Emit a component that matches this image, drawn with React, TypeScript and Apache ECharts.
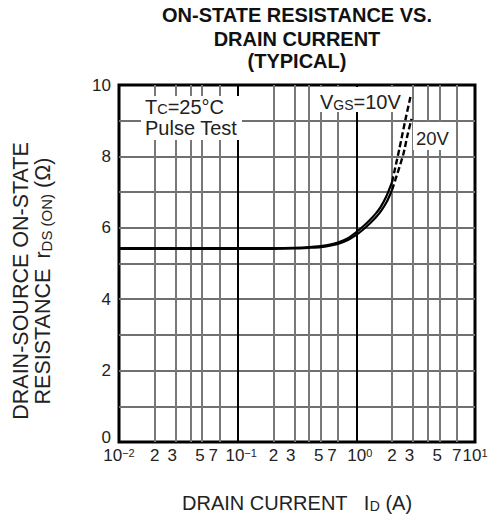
import React, { useEffect, useRef } from 'react';
import * as echarts from 'echarts';

const FONT = '"Liberation Sans", Arial, Helvetica, sans-serif';

const TITLE_LINES = ['ON-STATE RESISTANCE VS.', 'DRAIN CURRENT', '(TYPICAL)'];

// x tick label positions (A)
const X_LABEL_VALUES = [0.01, 0.02, 0.03, 0.05, 0.07, 0.1, 0.2, 0.3, 0.5, 0.7, 1, 2, 3, 5, 7, 10];
// vertical grid lines (A)
const X_GRID_MINOR = [0.02, 0.03, 0.04, 0.05, 0.07, 0.2, 0.3, 0.4, 0.5, 0.7, 2, 3, 4, 5, 7];
const X_GRID_DECADE = [0.1, 1];

// VGS = 10V
const I_10V_SOLID = [0.01, 0.1, 0.2, 0.3, 0.4, 0.5, 0.6, 0.7, 0.85, 1.0, 1.15, 1.3, 1.45, 1.6, 1.8, 2.0];
const R_10V_SOLID = [5.43, 5.43, 5.43, 5.44, 5.46, 5.49, 5.53, 5.59, 5.71, 5.88, 6.05, 6.22, 6.39, 6.58, 6.9, 7.28];
const I_10V_DASH = [2.0, 2.3, 2.6, 2.88];
const R_10V_DASH = [7.28, 8.2, 9.05, 9.72];

// VGS = 20V
const I_20V_SOLID = [0.01, 0.1, 0.2, 0.3, 0.4, 0.5, 0.6, 0.7, 0.85, 1.0, 1.15, 1.3, 1.45, 1.6, 1.8, 2.0];
const R_20V_SOLID = [5.41, 5.41, 5.41, 5.42, 5.44, 5.46, 5.5, 5.55, 5.66, 5.8, 5.96, 6.12, 6.28, 6.45, 6.72, 7.06];
const I_20V_DASH = [2.0, 2.48, 2.7, 2.92];
const R_20V_DASH = [7.06, 8.04, 8.6, 9.05];

const zip = (xs: number[], ys: number[]) => xs.map((x, i) => [x, ys[i]]);

function xLabel(v: number): string {
  const e = Math.floor(Math.log10(v) + 1e-9);
  const m = Math.round(v / Math.pow(10, e));
  if (m === 1) {
    const exp = e < 0 ? '\u2212' + Math.abs(e) : String(e);
    const style = e === -2 || e === 1 ? 'n' : 'nd';
    return '{' + style + '|10}{s|' + exp + '}';
  }
  // the last "7" sits next to the 10^1 label: keep its box small
  if (m === 7 && e === 0) return '{n|7}';
  return '{m' + m + '|' + m + '}';
}

const lab = (extra: any = {}) => ({ fontFamily: FONT, fontSize: 17, color: '#222', verticalAlign: 'bottom', lineHeight: 17, ...extra });

export default function App() {
  const ref = useRef<HTMLDivElement>(null);
  useEffect(() => {
    if (!ref.current) return;
    const chart = echarts.init(ref.current, undefined, { renderer: 'svg' });
    const lineBase = { type: 'line', showSymbol: false, symbol: 'none', smooth: 0.25, z: 3, silent: true };
    const option: any = {
      animation: false,
      backgroundColor: '#fff',
      grid: {
        left: 119, right: 21, top: 85, bottom: 75,
        show: true, borderColor: '#000', borderWidth: 3, backgroundColor: 'transparent',
        outerBoundsMode: 'none', containLabel: false,
      },
      xAxis: {
        type: 'log', logBase: 10, min: 0.01, max: 10,
        axisLine: { show: false }, axisTick: { show: false },
        splitLine: { show: false }, minorSplitLine: { show: false },
        axisLabel: {
          customValues: X_LABEL_VALUES,
          margin: 5,
          showMinLabel: true, showMaxLabel: true, hideOverlap: false,
          formatter: (v: number) => xLabel(v),
          rich: {
            n: lab(),
            nd: lab({ padding: [0, 0, 0, 7] }),
            m2: lab(),
            m3: lab({ padding: [0, 7, 0, 0] }),
            m5: lab({ padding: [0, 4, 0, 0] }),
            m7: lab({ padding: [0, 12, 0, 0] }),
            s: { fontFamily: FONT, fontSize: 11, color: '#222', verticalAlign: 'top', lineHeight: 11 },
          },
        },
      },
      yAxis: {
        type: 'value', min: 0, max: 10, interval: 1,
        axisLine: { show: false }, axisTick: { show: false },
        splitLine: { show: true, showMinLine: false, showMaxLine: false, lineStyle: { color: '#707070', width: 2 } },
        axisLabel: {
          margin: 8, fontFamily: FONT, fontSize: 17, color: '#222',
          showMinLabel: true, showMaxLabel: true,
          formatter: (v: number) => (v % 2 !== 0 ? '' : v === 0 ? '{z|0}' : String(v)),
          rich: { z: { fontFamily: FONT, fontSize: 17, color: '#222', padding: [0, 0, 10, 0] } },
        },
      },
      series: [
        {
          ...lineBase, name: '10V', data: zip(I_10V_SOLID, R_10V_SOLID),
          lineStyle: { color: '#000', width: 2.2 },
          markLine: {
            silent: true, symbol: ['none', 'none'], label: { show: false }, z: 1, animation: false,
            data: [
              ...X_GRID_MINOR.map((v) => ({ xAxis: v, lineStyle: { color: '#787878', width: 2, type: 'solid' } })),
              ...X_GRID_DECADE.map((v) => ({ xAxis: v, lineStyle: { color: '#000', width: 2, type: 'solid' } })),
            ],
          },
        },
        { ...lineBase, name: '10V dashed', data: zip(I_10V_DASH, R_10V_DASH), lineStyle: { color: '#000', width: 2.4, type: [6, 3] } },
        { ...lineBase, name: '20V', data: zip(I_20V_SOLID, R_20V_SOLID), lineStyle: { color: '#000', width: 2.2 } },
        { ...lineBase, name: '20V dashed', data: zip(I_20V_DASH, R_20V_DASH), lineStyle: { color: '#000', width: 2.4, type: [6, 3] } },
      ],
      graphic: [
        ...TITLE_LINES.map((t, i) => ({
          type: 'text', x: 297, y: [15, 39, 61][i], z: 10,
          style: { text: t, align: 'center', verticalAlign: 'middle', fontFamily: FONT, fontSize: 20, fontWeight: 'bold', lineHeight: 18, fill: '#111' },
        })),
        {
          type: 'text', x: 32, y: 281, rotation: Math.PI / 2, z: 10,
          style: {
            text: '{a|DRAIN-SOURCE ON-STATE}\n{a|RESISTANCE }{b| }{a|r}{b|DS (ON)}{a| (\u03a9)}',
            align: 'center', verticalAlign: 'middle', lineHeight: 22,
            rich: {
              a: { fontFamily: FONT, fontSize: 21.5, fill: '#222', lineHeight: 22, verticalAlign: 'bottom' },
              b: { fontFamily: FONT, fontSize: 15, fill: '#222', lineHeight: 22, verticalAlign: 'bottom' },
            },
          },
        },
        {
          type: 'text', x: 182, y: 503, z: 10,
          style: {
            text: '{a|DRAIN CURRENT   I}{b|D}{a| (A)}',
            align: 'left', verticalAlign: 'middle',
            rich: {
              a: { fontFamily: FONT, fontSize: 20, fill: '#222', lineHeight: 20, verticalAlign: 'bottom' },
              b: { fontFamily: FONT, fontSize: 14, fill: '#222', lineHeight: 20, verticalAlign: 'bottom' },
            },
          },
        },
        { type: 'rect', z: 9, shape: { x: 141, y: 96, width: 101, height: 44 }, style: { fill: '#fff' } },
        {
          type: 'text', x: 145, y: 108, z: 10,
          style: {
            text: '{a|T}{b|C}{a|=25\u00b0C}', align: 'left', verticalAlign: 'middle',
            rich: {
              a: { fontFamily: FONT, fontSize: 20, fill: '#222', lineHeight: 17, verticalAlign: 'bottom' },
              b: { fontFamily: FONT, fontSize: 14.5, fill: '#222', lineHeight: 17, verticalAlign: 'bottom' },
            },
          },
        },
        {
          type: 'text', x: 145, y: 127.5, z: 10,
          style: { text: 'Pulse Test', align: 'left', verticalAlign: 'middle', fontFamily: FONT, fontSize: 20, lineHeight: 18, fill: '#222' },
        },
        { type: 'rect', z: 9, shape: { x: 318, y: 87, width: 85, height: 25 }, style: { fill: '#fff' } },
        {
          type: 'text', x: 320, y: 102.5, z: 10,
          style: {
            text: '{a|V}{b|GS}{a|=10V}', align: 'left', verticalAlign: 'middle',
            rich: {
              a: { fontFamily: FONT, fontSize: 20, fill: '#222', lineHeight: 18, verticalAlign: 'bottom' },
              b: { fontFamily: FONT, fontSize: 14, fill: '#222', lineHeight: 18, verticalAlign: 'bottom' },
            },
          },
        },
        { type: 'rect', z: 9, shape: { x: 413, y: 122, width: 43, height: 28 }, style: { fill: '#fff' } },
        {
          type: 'text', x: 416, y: 138.5, z: 10,
          style: { text: '20V', align: 'left', verticalAlign: 'middle', fontFamily: FONT, fontSize: 18.5, fill: '#222' },
        },
      ],
    };
    chart.setOption(option);
    return () => chart.dispose();
  }, []);
  return <div ref={ref} style={{ width: 496, height: 517, position: 'absolute', left: 0, top: 0 }} />;
}
